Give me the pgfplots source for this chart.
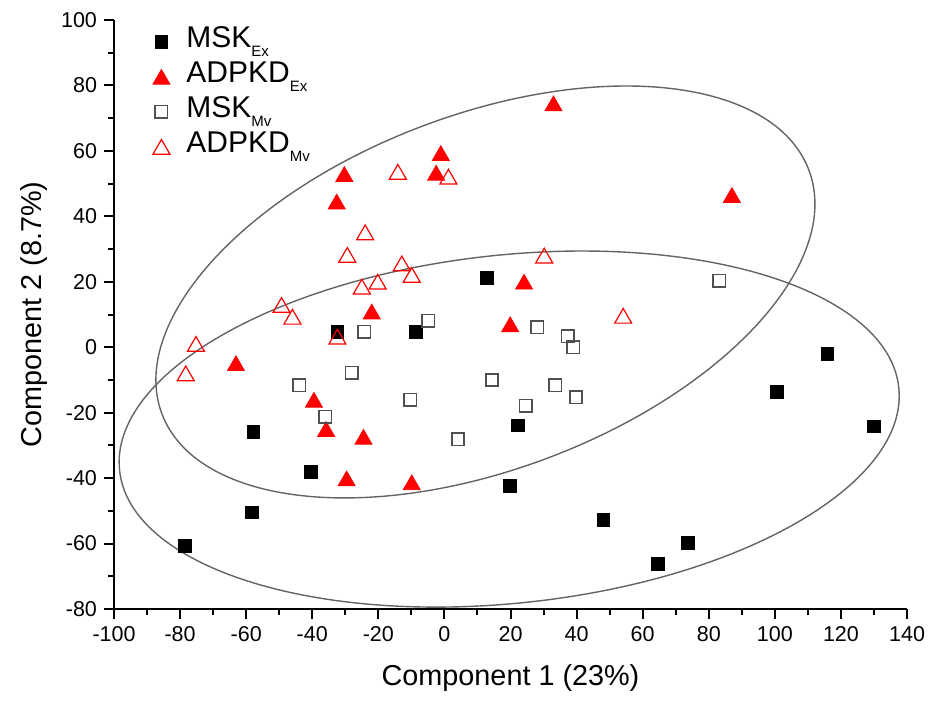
\documentclass[border=0pt]{standalone}
\usepackage{fontspec}
\setmainfont{Liberation Sans}
\usepackage{pgfplots}
\pgfplotsset{compat=1.18}
\usetikzlibrary{backgrounds}

\definecolor{ellgray}{RGB}{100,100,100}
\definecolor{sqgray}{RGB}{80,80,80}
\newcommand{\sub}[1]{\raisebox{-4.5pt}{\fontsize{7.5}{8}\selectfont #1}}

\begin{document}
\begin{tikzpicture}
\begin{axis}[
    scale only axis,
    width=396.5pt, height=294.5pt,
    xmin=-100, xmax=140, ymin=-80, ymax=100,
    xtick={-100,-80,...,140}, ytick={-80,-60,...,100},
    minor x tick num=1, minor y tick num=1,
    axis x line*=bottom, axis y line*=left,
    axis line style={-, line width=1pt},
    tick align=outside,
    major tick length=5pt, minor tick length=3pt,
    every tick/.style={black, line width=1pt},
    tick label style={font=\fontsize{10.75}{12}\selectfont},
    /pgf/number format/assume math mode=true,
    xlabel={Component 1 (23\%)},
    ylabel={Component 2 (8.7\%)},
    label style={font=\fontsize{14.4}{17}\selectfont},
    xlabel style={yshift=-5pt},
    clip=false,
    legend style={at={(0.041,1.0)}, anchor=north west, draw=none, fill=none,
      font=\fontsize{15}{17.5}\selectfont, row sep=0pt,
      nodes={inner ysep=0.5pt, text height=11pt, text depth=5.5pt}},
    legend cell align=left,
    legend image code/.code={
      \draw[mark repeat=2, mark phase=2]
        plot coordinates {(0cm,0cm) (0.3cm,0cm) (0.8cm,0cm)};
      \path[draw=none, fill=none] (0.3cm,0pt) -- ++(10.5pt,0pt);},
  ]
  % centres of the two ellipses
  \coordinate (cU) at (axis cs:12.4,16.9);
  \coordinate (cL) at (axis cs:19.6,-25.0);
  \coordinate (bbsw) at (rel axis cs:-0.1438,-0.1613);
  \coordinate (bbne) at (rel axis cs:1.0315,1.034);

  % MSK Ex
  \addplot[only marks, mark=square*, mark size=3.2pt, black] coordinates {
    (-78.5,-60.7) (-58.3,-50.5) (-57.8,-25.8) (-40.4,-38.0) (-32.4,4.6)
    (-8.7,4.6) (12.8,21.3) (22.2,-23.9) (19.9,-42.4) (48.1,-52.8)
    (64.7,-66.1) (73.8,-59.9) (100.6,-13.7) (115.9,-2.1) (130.0,-24.2)
  };
  % ADPKD Ex
  \addplot[only marks, mark=triangle*, mark size=4.9pt, red,
    mark options={yshift=-1.2pt}] coordinates {
    (-30.3,52.9) (-32.6,44.5) (-1.1,59.3) (-2.5,53.3) (-22.0,10.9)
    (33.0,74.5) (87.0,46.5) (24.1,20.0) (19.9,7.0) (-63.1,-4.9)
    (-39.5,-16.1) (-35.8,-25.0) (-24.5,-27.4) (-29.6,-40.1) (-9.9,-41.3)
  };
  % MSK Mv
  \addplot[only marks, mark=square, mark size=3.1pt, sqgray,
    mark options={line width=0.75pt}] coordinates {
    (-4.9,8.1) (-24.3,4.7) (-28.1,-7.8) (-43.9,-11.6) (-36.1,-21.2)
    (-10.4,-16.1) (4.1,-28.1) (14.4,-10.0) (28.1,6.1) (37.3,3.4)
    (39.0,0.0) (83.2,20.3) (33.5,-11.6) (39.8,-15.3) (24.6,-17.9)
  };
  % ADPKD Mv
  \addplot[only marks, mark=triangle, mark size=4.9pt, red,
    mark options={line width=0.6pt, yshift=-1.2pt}] coordinates {
    (-14.1,53.6) (1.2,52.1) (-24.0,35.1) (-29.4,28.2) (-12.9,25.6)
    (-9.9,22.1) (-25.0,18.5) (-20.2,20.0) (-49.3,12.9) (-46.0,9.3)
    (-32.4,3.2) (-75.2,1.0) (-78.3,-8.0) (30.2,28.0) (54.1,9.6)
  };
  \legend{MSK\sub{Ex}, ADPKD\sub{Ex}, MSK\sub{Mv}, ADPKD\sub{Mv}}
\end{axis}

\begin{scope}[on background layer]
  \draw[ellgray, line width=0.7pt, rotate around={20.65:(cU)}]
    (cU) ellipse [x radius=172.85pt, y radius=88.7pt];
  \draw[ellgray, line width=0.7pt, rotate around={6.07:(cL)}]
    (cL) ellipse [x radius=195.9pt, y radius=87.05pt];
\end{scope}

\pgfresetboundingbox
\path (bbsw) rectangle (bbne);
\end{tikzpicture}
\end{document}
